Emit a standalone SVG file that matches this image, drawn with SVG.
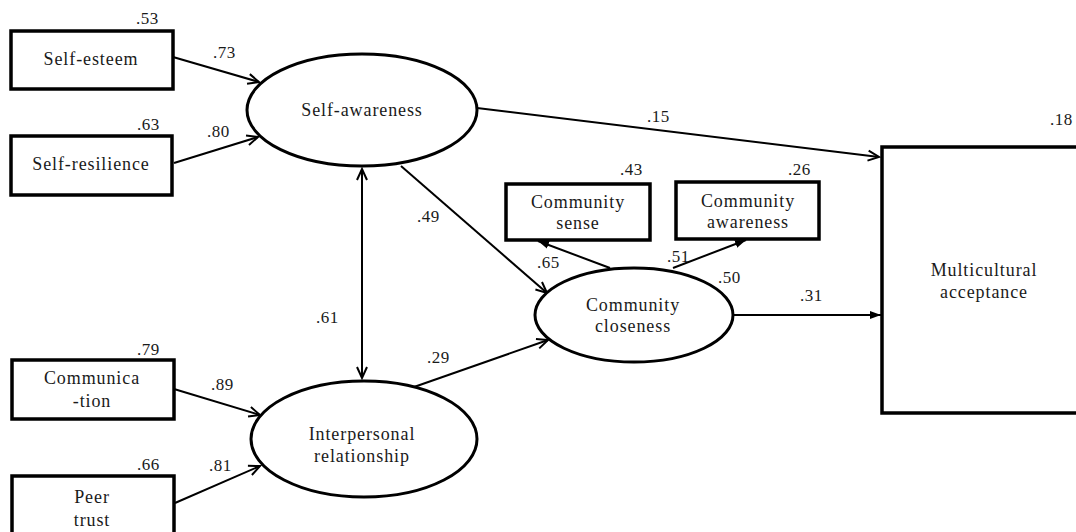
<svg xmlns="http://www.w3.org/2000/svg" width="1076" height="532" viewBox="0 0 1076 532">
<style>
.box{fill:#fff;stroke:#000;stroke-width:3.5}
.ell{fill:#fff;stroke:#000;stroke-width:3}
.lbl{font-family:'Liberation Serif',serif;font-size:18px;letter-spacing:0.9px;fill:#1a1a1a;text-anchor:middle}
.num{font-family:'Liberation Serif',serif;font-size:17px;letter-spacing:0.5px;fill:#1a1a1a}
.ln{stroke:#000;stroke-width:2;fill:none}
</style>
<defs>
<marker id="open" markerUnits="userSpaceOnUse" markerWidth="14" markerHeight="14" refX="12" refY="6" orient="auto-start-reverse" viewBox="0 0 14 12">
<path d="M1,1 L12,6 L1,11" fill="none" stroke="#000" stroke-width="2"/>
</marker>
<marker id="fill" markerUnits="userSpaceOnUse" markerWidth="12" markerHeight="10" refX="11" refY="4" orient="auto" viewBox="0 0 12 8">
<path d="M0,0 L11,4 L0,8 Z" fill="#000"/>
</marker>
</defs>
<rect width="1076" height="532" fill="#fff"/>

<g id="connectors">
<line class="ln" x1="173" y1="57" x2="259" y2="82" marker-end="url(#open)"/>
<line class="ln" x1="174" y1="163" x2="258" y2="137" marker-end="url(#open)"/>
<line class="ln" x1="362" y1="169" x2="362" y2="378" marker-start="url(#open)" marker-end="url(#open)"/>
<line class="ln" x1="174" y1="389" x2="260" y2="415" marker-end="url(#open)"/>
<line class="ln" x1="175" y1="503" x2="260" y2="466" marker-end="url(#open)"/>
<line class="ln" x1="401" y1="166" x2="547" y2="293" marker-end="url(#open)"/>
<line class="ln" x1="414" y1="387" x2="548" y2="340" marker-end="url(#open)"/>
<line class="ln" x1="610" y1="268" x2="538" y2="241" marker-end="url(#fill)"/>
<line class="ln" x1="673" y1="268" x2="746" y2="240" marker-end="url(#fill)"/>
<line class="ln" x1="734" y1="315" x2="881" y2="315" marker-end="url(#fill)"/>
<line class="ln" x1="477" y1="108" x2="879" y2="157" marker-end="url(#open)"/>
</g>

<g id="self-esteem" font-family="'Liberation Serif', serif">
<rect class="box" x="11" y="31" width="162" height="58"/>
<text class="lbl" x="91" y="65">Self-esteem</text>
<text class="num" x="136" y="24">.53</text>
</g>
<g id="self-resilience" font-family="'Liberation Serif', serif">
<rect class="box" x="11" y="136" width="161" height="59"/>
<text class="lbl" x="91" y="170">Self-resilience</text>
<text class="num" x="137" y="130">.63</text>
</g>
<g id="self-awareness" font-family="'Liberation Serif', serif">
<ellipse class="ell" cx="362" cy="110" rx="115" ry="56"/>
<text class="lbl" x="362" y="116">Self-awareness</text>
</g>
<g id="communication" font-family="'Liberation Serif', serif">
<rect class="box" x="12" y="360" width="162" height="59"/>
<text class="lbl" x="92" y="384">Communica</text>
<text class="lbl" x="92" y="407">-tion</text>
<text class="num" x="137" y="355">.79</text>
</g>
<g id="peer-trust" font-family="'Liberation Serif', serif">
<rect class="box" x="12" y="476" width="162" height="70"/>
<text class="lbl" x="92" y="503">Peer</text>
<text class="lbl" x="92" y="526">trust</text>
<text class="num" x="137" y="470">.66</text>
</g>
<g id="interpersonal-relationship" font-family="'Liberation Serif', serif">
<ellipse class="ell" cx="364" cy="439" rx="113" ry="58"/>
<text class="lbl" x="362" y="440">Interpersonal</text>
<text class="lbl" x="362" y="462">relationship</text>
</g>
<g id="community-sense" font-family="'Liberation Serif', serif">
<rect class="box" x="506" y="184" width="144" height="56"/>
<text class="lbl" x="578" y="208">Community</text>
<text class="lbl" x="578" y="229">sense</text>
<text class="num" x="620" y="175">.43</text>
</g>
<g id="community-awareness" font-family="'Liberation Serif', serif">
<rect class="box" x="676" y="182" width="143" height="57"/>
<text class="lbl" x="748" y="207">Community</text>
<text class="lbl" x="748" y="228">awareness</text>
<text class="num" x="788" y="175">.26</text>
</g>
<g id="community-closeness" font-family="'Liberation Serif', serif">
<ellipse class="ell" cx="634" cy="315" rx="99" ry="47"/>
<text class="lbl" x="633" y="311">Community</text>
<text class="lbl" x="633" y="332">closeness</text>
<text class="num" x="718" y="283">.50</text>
</g>
<g id="multicultural-acceptance" font-family="'Liberation Serif', serif">
<rect class="box" x="882" y="147" width="220" height="266"/>
<text class="lbl" x="984" y="276">Multicultural</text>
<text class="lbl" x="984" y="298">acceptance</text>
<text class="num" x="1050" y="125">.18</text>
</g>

<g id="path-labels" font-family="'Liberation Serif', serif">
<text class="num" x="213" y="58">.73</text>
<text class="num" x="207" y="137">.80</text>
<text class="num" x="417" y="222">.49</text>
<text class="num" x="316" y="323">.61</text>
<text class="num" x="211" y="390">.89</text>
<text class="num" x="209" y="471">.81</text>
<text class="num" x="427" y="363">.29</text>
<text class="num" x="537" y="268">.65</text>
<text class="num" x="667" y="262">.51</text>
<text class="num" x="800" y="301">.31</text>
<text class="num" x="647" y="122">.15</text>
</g>
</svg>
